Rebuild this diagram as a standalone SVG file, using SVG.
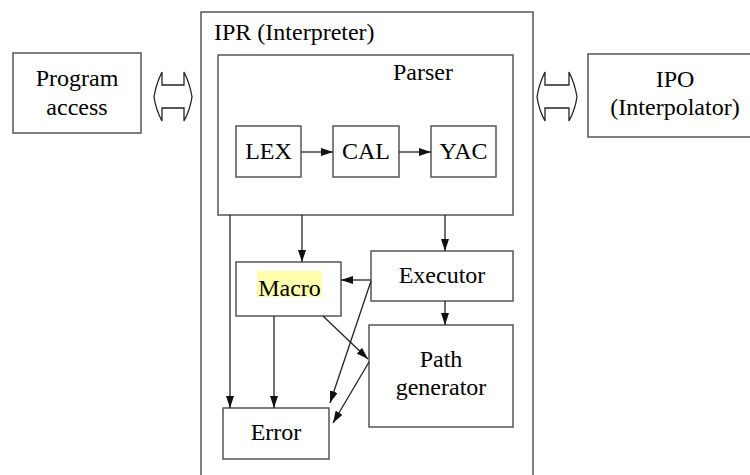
<svg xmlns="http://www.w3.org/2000/svg" width="750" height="475" viewBox="0 0 750 475">
<defs>
<style>
.box{fill:#fff;stroke:#555;stroke-width:1.5}
.c{stroke:#222;stroke-width:1.3;fill:none;marker-end:url(#ah)}
.dbl{fill:#fff;stroke:#222;stroke-width:1.3;stroke-linejoin:miter}
</style>
<marker id="ah" markerUnits="userSpaceOnUse" markerWidth="13" markerHeight="9" refX="12" refY="4" orient="auto">
<path d="M0,0 L12,4 L0,8 z" fill="#111"/>
</marker>
</defs>
<rect width="750" height="475" fill="#fff"/>

<g id="program-access">
<rect class="box" x="13" y="53" width="128" height="80"/>
<text x="77" y="86" font-family="Times New Roman" font-size="24" text-anchor="middle">Program</text>
<text x="77" y="115" font-family="Times New Roman" font-size="24" text-anchor="middle">access</text>
</g>

<g id="link-left">
<path class="dbl" d="M162,72 Q156,84 154,97 Q156,110 162,121 L162,108 L184,108 L184,121 Q190,110 192,97 Q190,84 184,72 L184,85 L162,85 Z"/>
</g>

<g id="ipr">
<rect class="box" x="201" y="12" width="332" height="470"/>
<text x="214" y="40" font-family="Times New Roman" font-size="24">IPR (Interpreter)</text>
</g>

<g id="link-right">
<path class="dbl" d="M545,72 Q539,84 537,97 Q539,110 545,121 L545,108 L569,108 L569,121 Q575,110 577,97 Q575,84 569,72 L569,85 L545,85 Z"/>
</g>

<g id="ipo">
<rect class="box" x="588" y="54" width="170" height="83"/>
<text x="675" y="87" font-family="Times New Roman" font-size="24" text-anchor="middle">IPO</text>
<text x="675" y="115" font-family="Times New Roman" font-size="24" text-anchor="middle">(Interpolator)</text>
</g>

<g id="parser">
<rect class="box" x="218" y="55" width="295" height="160"/>
<text x="423" y="80" font-family="Times New Roman" font-size="24" text-anchor="middle">Parser</text>
</g>

<g id="lex">
<rect class="box" x="236" y="126" width="65" height="51"/>
<text x="268.5" y="159" font-family="Times New Roman" font-size="24" text-anchor="middle">LEX</text>
</g>
<g id="cal">
<rect class="box" x="333" y="126" width="66" height="51"/>
<text x="366" y="159" font-family="Times New Roman" font-size="24" text-anchor="middle">CAL</text>
</g>
<g id="yac">
<rect class="box" x="431" y="126" width="65" height="51"/>
<text x="463.5" y="159" font-family="Times New Roman" font-size="24" text-anchor="middle">YAC</text>
</g>

<g id="macro">
<rect class="box" x="236" y="262" width="105" height="54"/>
<rect x="257" y="271" width="65" height="26" fill="#ffff99" opacity="0.8"/>
<text x="289.5" y="296" font-family="Times New Roman" font-size="24" text-anchor="middle">Macro</text>
</g>

<g id="executor">
<rect class="box" x="371" y="251" width="142" height="50"/>
<text x="442" y="283" font-family="Times New Roman" font-size="24" text-anchor="middle">Executor</text>
</g>

<g id="path-generator">
<rect class="box" x="369" y="325" width="144" height="102"/>
<text x="441" y="367" font-family="Times New Roman" font-size="24" text-anchor="middle">Path</text>
<text x="441" y="395" font-family="Times New Roman" font-size="24" text-anchor="middle">generator</text>
</g>

<g id="error">
<rect class="box" x="223" y="408" width="106" height="51"/>
<text x="276" y="440" font-family="Times New Roman" font-size="24" text-anchor="middle">Error</text>
</g>

<g id="connectors">
<line class="c" x1="301" y1="152" x2="333" y2="152"/>
<line class="c" x1="399" y1="152" x2="431" y2="152"/>
<line class="c" x1="230" y1="215" x2="230" y2="408"/>
<line class="c" x1="302" y1="215" x2="302" y2="262"/>
<line class="c" x1="445" y1="215" x2="445" y2="251"/>
<line class="c" x1="371" y1="280" x2="341" y2="280"/>
<line class="c" x1="445" y1="301" x2="445" y2="325"/>
<line class="c" x1="274" y1="316" x2="274" y2="408"/>
<line class="c" x1="323" y1="316" x2="368" y2="359"/>
<line class="c" x1="371" y1="281" x2="330" y2="403"/>
<line class="c" x1="369" y1="362" x2="333" y2="423"/>
</g>
</svg>
